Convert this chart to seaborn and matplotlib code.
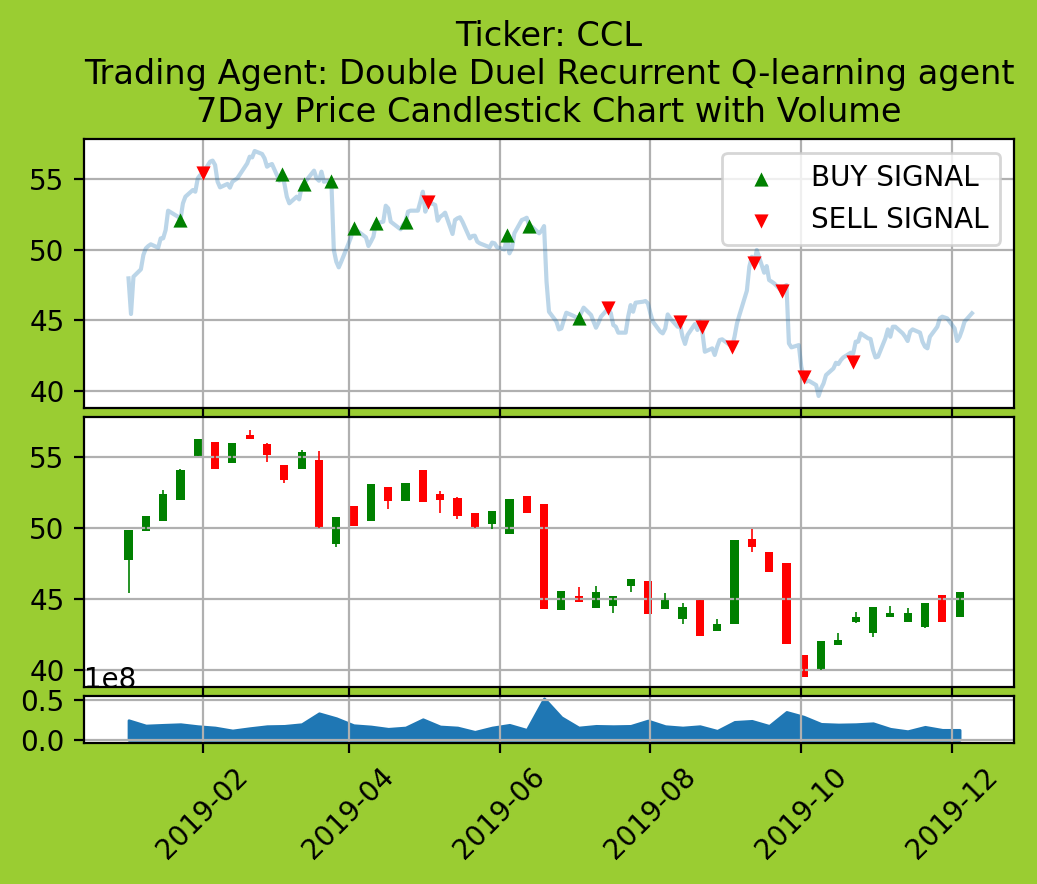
import pandas as pd
import seaborn as sns
import matplotlib.pyplot as plt
import matplotlib.dates as mdates

BG = 'yellowgreen'
W, H = 1037, 884

price_doy = [2, 3, 4, 7, 8, 9, 10, 11, 14, 15, 16, 17, 18, 22, 23, 24, 25, 28, 29, 30, 31, 32,
             35, 36, 37, 38, 39, 42, 43, 44, 45, 46, 50, 51, 52, 53, 56, 57, 58, 59, 60,
             63, 64, 65, 66, 67, 70, 71, 72, 73, 74, 77, 78, 79, 80, 81, 84, 85, 86, 87, 88,
             91, 92, 93, 94, 95, 98, 99, 100, 101, 102, 105, 106, 107, 108, 112, 113, 114, 115, 116,
             119, 120, 121, 122, 123, 126, 127, 128, 129, 130, 133, 134, 135, 136, 137,
             140, 141, 142, 143, 144, 148, 149, 150, 151, 154, 155, 156, 157, 158,
             161, 162, 163, 164, 165, 168, 169, 170, 171, 172, 175, 176, 177, 178, 179,
             182, 183, 184, 186, 189, 190, 191, 192, 193, 196, 197, 198, 199, 200,
             203, 204, 205, 206, 207, 210, 211, 212, 213, 214, 217, 218, 219, 220, 221,
             224, 225, 226, 227, 228, 231, 232, 233, 234, 235, 238, 239, 240, 241, 242,
             246, 247, 248, 249, 252, 253, 254, 255, 256, 259, 260, 261, 262, 263,
             266, 267, 268, 269, 270, 273, 274, 275, 276, 277, 280, 281, 282, 283, 284,
             287, 288, 289, 290, 291, 294, 295, 296, 297, 298, 301, 302, 303, 304, 305,
             308, 309, 310, 311, 312, 315, 316, 317, 318, 319, 322, 323, 324, 325, 326,
             329, 330, 331, 333, 336, 337, 338, 339, 340, 343]
price = [47.97, 45.45, 48.09, 48.61, 49.62, 50.09, 50.26, 50.38, 50.14, 50.80, 50.80, 51.39, 52.76, 52.33, 52.15, 53.28, 53.75, 54.22, 54.10, 55.05, 55.28, 55.40,
         56.23, 56.30, 55.99, 54.81, 54.41, 54.65, 54.39, 54.81, 54.93, 55.05, 56.11, 56.58, 56.53, 56.98, 56.77, 56.46, 55.87, 55.99, 56.06,
         54.88, 55.28, 54.69, 53.75, 53.28, 53.75, 53.56, 54.46, 54.69, 54.93, 55.59, 55.05, 54.88, 55.52, 54.81, 54.88, 49.98, 49.15, 48.75, 49.15,
         50.45, 50.92, 51.51, 51.39, 51.27, 50.87, 50.26, 50.57, 50.92, 51.86, 51.98, 53.11, 52.92, 51.98, 51.44, 51.75, 51.98, 52.69, 52.76,
         52.76, 53.40, 54.10, 52.69, 53.40, 53.16, 52.05, 52.33, 52.45, 52.62, 51.11, 52.10, 52.22, 52.29, 51.98,
         50.80, 50.97, 50.99, 50.57, 50.45, 50.17, 50.50, 50.45, 50.17, 50.02, 50.92, 49.74, 50.09, 51.16,
         52.10, 52.17, 52.26, 51.67, 51.63, 51.16, 51.34, 51.67, 47.74, 45.61, 44.91, 44.36, 44.43, 45.02, 45.54,
         45.31, 45.21, 45.14, 45.90, 45.38, 44.91, 44.48, 44.83, 45.26, 45.85, 45.50, 44.67, 44.55, 44.13,
         44.13, 45.26, 46.08, 45.61, 46.25, 46.32, 46.37, 46.20, 45.50, 44.91, 44.20, 44.08, 44.43, 45.42, 45.14,
         44.55, 44.67, 43.84, 43.33, 43.96, 44.74, 44.32, 44.91, 44.20, 42.78, 43.02, 42.55, 43.14, 43.61, 43.66,
         43.14, 43.84, 44.79, 45.38, 47.10, 48.80, 49.50, 49.03, 49.98, 48.37, 48.84, 47.85, 47.74, 47.62,
         47.10, 47.38, 47.50, 43.37, 43.09, 43.25, 41.72, 40.97, 40.66, 40.73, 40.42, 39.65, 40.19, 40.54, 41.13,
         41.60, 42.00, 41.91, 42.19, 42.38, 42.71, 42.66, 43.49, 43.49, 44.08, 43.73, 43.68, 42.90, 42.38, 42.43,
         43.73, 44.36, 43.84, 44.55, 44.55, 44.08, 43.84, 43.54, 44.20, 44.36, 44.13, 43.49, 43.14, 43.02, 43.84,
         44.55, 45.14, 45.26, 45.14, 44.43, 43.54, 43.84, 44.32, 44.91, 45.50]

buy_doy = [23, 64, 73, 84, 93, 102, 114, 155, 164, 184]
buy_price = [52.10, 55.35, 54.67, 54.85, 51.50, 51.86, 51.98, 51.04, 51.70, 45.14]
sell_doy = [32, 123, 196, 225, 234, 246, 255, 266, 275, 295]
sell_price = [55.40, 53.40, 45.90, 44.90, 44.55, 43.14, 49.03, 47.10, 40.97, 42.03]

candle_open = [47.77, 49.81, 50.52, 52.00, 55.07, 56.06, 54.60, 56.55, 55.92, 54.44,
               54.18, 54.79, 48.90, 51.55, 50.52, 52.89, 51.92, 54.08, 52.39, 52.11,
               51.06, 50.31, 49.60, 52.25, 51.69, 44.25, 45.21, 44.39, 44.53, 45.94,
               46.27, 44.32, 43.62, 44.93, 42.77, 43.26, 49.23, 48.31, 47.54, 41.06,
               40.07, 41.78, 43.40, 42.63, 43.76, 43.40, 43.05, 45.28, 43.76]
candle_close = [49.86, 50.85, 52.39, 54.08, 56.27, 54.18, 55.99, 56.29, 55.16, 53.40,
                55.35, 50.09, 50.77, 50.16, 53.10, 51.92, 53.17, 51.85, 52.00, 50.87,
                50.09, 51.20, 52.04, 51.08, 44.32, 45.56, 44.81, 45.49, 45.21, 46.41,
                43.97, 44.93, 44.44, 42.42, 43.24, 49.15, 48.69, 46.92, 41.85, 39.53,
                42.04, 42.11, 43.73, 44.44, 44.01, 44.01, 44.72, 43.40, 45.49]
candle_high = [49.86, 50.85, 52.68, 54.18, 56.27, 56.06, 55.99, 56.92, 55.99, 54.44,
               55.49, 55.42, 50.77, 51.55, 53.10, 52.89, 53.17, 54.08, 52.63, 52.20,
               51.06, 51.20, 52.04, 52.25, 51.69, 45.56, 45.87, 45.94, 45.21, 46.41,
               46.27, 45.45, 44.72, 44.93, 43.59, 49.15, 49.93, 48.31, 47.54, 41.06,
               42.04, 42.60, 44.08, 44.44, 44.51, 44.39, 44.72, 45.28, 45.49]
candle_low = [45.45, 49.81, 50.52, 52.00, 55.07, 54.18, 54.60, 56.29, 54.67, 53.17,
              54.18, 50.00, 48.66, 50.16, 50.52, 51.34, 51.92, 51.85, 51.06, 50.63,
              50.00, 49.93, 49.60, 51.08, 44.32, 44.25, 44.81, 44.39, 44.01, 45.49,
              43.97, 44.32, 43.24, 42.42, 42.77, 43.26, 48.31, 46.92, 41.85, 39.53,
              40.00, 41.78, 43.31, 42.32, 43.76, 43.40, 42.96, 43.40, 43.76]
volume = [0.246, 0.179, 0.188, 0.196, 0.171, 0.154, 0.117, 0.146, 0.171, 0.175,
          0.196, 0.333, 0.271, 0.183, 0.167, 0.138, 0.154, 0.258, 0.167, 0.154,
          0.100, 0.154, 0.188, 0.125, 0.520, 0.283, 0.154, 0.175, 0.171, 0.175,
          0.242, 0.171, 0.154, 0.171, 0.113, 0.225, 0.238, 0.175, 0.350, 0.290,
          0.200, 0.192, 0.196, 0.208, 0.138, 0.108, 0.163, 0.125, 0.125]


def from_doy(days):
    return pd.Timestamp('2018-12-31') + pd.to_timedelta(days, unit='D')


def axes_box(top, bottom):
    return [84 / W, 1 - bottom / H, 930 / W, (bottom - top) / H]


df_price = pd.DataFrame({'date': from_doy(price_doy), 'price': price})
df_buy = pd.DataFrame({'date': from_doy(buy_doy), 'price': buy_price})
df_sell = pd.DataFrame({'date': from_doy(sell_doy), 'price': sell_price})
df_candle = pd.DataFrame({
    'date': pd.date_range('2019-01-02', periods=len(candle_open), freq='7D'),
    'open': candle_open, 'close': candle_close,
    'high': candle_high, 'low': candle_low,
    'volume': [v * 1e8 for v in volume]})
df_candle['color'] = ['green' if c >= o else 'red'
                      for o, c in zip(candle_open, candle_close)]

fig = plt.figure(figsize=(W / 200, H / 200), dpi=200, facecolor=BG)
ax1 = fig.add_axes(axes_box(139, 408))
ax2 = fig.add_axes(axes_box(417, 687), sharex=ax1, sharey=ax1)
ax3 = fig.add_axes(axes_box(696, 743), sharex=ax1)

# price line and signals
sns.lineplot(data=df_price, x='date', y='price', ax=ax1, color='tab:blue',
             alpha=0.3, linewidth=1.5, errorbar=None)
sns.scatterplot(data=df_buy, x='date', y='price', ax=ax1, marker='^',
                color='green', s=26, linewidth=0, label='BUY SIGNAL', zorder=3)
sns.scatterplot(data=df_sell, x='date', y='price', ax=ax1, marker='v',
                color='red', s=26, linewidth=0, label='SELL SIGNAL', zorder=3)
ax1.legend(loc='upper right')

# candles
ax2.bar(df_candle['date'], df_candle['close'] - df_candle['open'],
        bottom=df_candle['open'], width=3.3, color=df_candle['color'])
ax2.vlines(df_candle['date'], df_candle['low'], df_candle['high'],
           colors=df_candle['color'], linewidth=0.6, zorder=2)

# volume
ax3.fill_between(df_candle['date'], df_candle['volume'], color='tab:blue')
ax3.set_ylim(-0.04e8, 0.55e8)
ax3.set_yticks([0, 0.5e8])
ax3.ticklabel_format(axis='y', style='sci', scilimits=(8, 8))

ax1.set_ylim(38.8, 57.83)
ax1.set_yticks([40, 45, 50, 55])
ax1.set_xlim(pd.Timestamp('2018-12-15'), pd.Timestamp('2019-12-26'))
ax3.xaxis.set_major_locator(mdates.MonthLocator(bymonth=[2, 4, 6, 8, 10, 12]))
ax3.xaxis.set_major_formatter(mdates.DateFormatter('%Y-%m'))

for ax in (ax1, ax2, ax3):
    ax.grid(True)
    ax.set_xlabel('')
    ax.set_ylabel('')
ax1.tick_params(axis='x', labelbottom=False)
ax2.tick_params(axis='x', labelbottom=False)
ax3.tick_params(axis='x', labelrotation=45)

ax1.set_title('Ticker: CCL\nTrading Agent: Double Duel Recurrent Q-learning agent\n'
              '7Day Price Candlestick Chart with Volume', fontsize=12.1)

fig.savefig('out.png', dpi=200, facecolor=BG)
